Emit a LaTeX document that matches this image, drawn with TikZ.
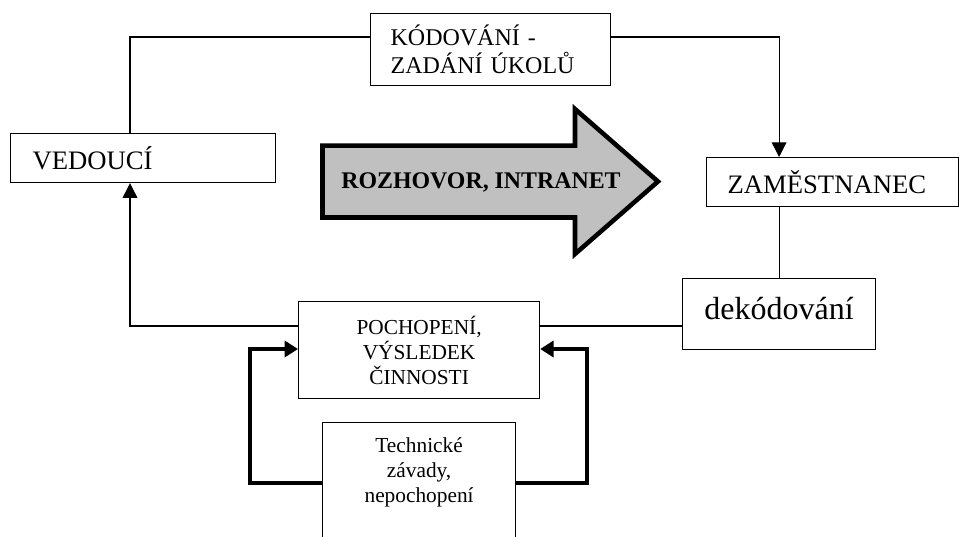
\documentclass[tikz,border=0pt]{standalone}
\usepackage{fontspec}
\setmainfont{Liberation Serif}
\usetikzlibrary{arrows.meta,calc}
\definecolor{talkgray}{RGB}{192,192,192}
\begin{document}
\begin{tikzpicture}[
    x=0.75pt, y=-0.75pt,
    box/.style={draw, line width=0.9pt, anchor=north west, inner ysep=0pt},
    lbox/.style={box, align=left, font=\fontsize{18}{21}\selectfont},
    cbox/.style={box, align=center, font=\fontsize{16}{18.75}\selectfont},
    link/.style={line width=0.9pt},
    flow/.style={link, -{Triangle[length=11pt, width=11pt]}},
    fat/.style={line width=3pt, line join=miter, -{Triangle[length=10pt, width=12pt]}}
]
    \useasboundingbox (0,0) rectangle (959,536);

    \node[lbox, minimum height=54pt, text width=150pt, inner xsep=15pt] (kod) at (370,13) {KÓDOVÁNÍ -\\ZADÁNÍ ÚKOLŮ};
    \node[lbox, minimum height=36.75pt, text width=165.75pt, inner xsep=16.5pt, font=\fontsize{20}{24}\selectfont] (ved) at (10,133) {VEDOUCÍ};
    \node[lbox, minimum height=36.75pt, text width=157.5pt, inner xsep=15.75pt, font=\fontsize{20}{24}\selectfont] (zam) at (706,157) {ZAMĚSTNANEC};
    \node[box, minimum width=144.75pt, minimum height=53.25pt, text depth=9pt, font=\fontsize{24}{28}\selectfont] (dek) at (682,278) {dekódování};
    \node[cbox, minimum width=180.75pt, minimum height=72.75pt, text width=160pt] (poch) at (298,301) {POCHOPENÍ,\\VÝSLEDEK\\ČINNOSTI};
    \node[cbox, minimum width=144.75pt, text width=130pt, inner ysep=11.5pt, text depth=150pt] (tech) at (322,422) {Technické\\závady,\\nepochopení};

    % velka sipka
    \draw[line width=3.4pt, fill=talkgray, line join=miter] (322.5,145.7) -- (575,145.7) -- (575,109) -- (658,181.5) -- (575,254) -- (575,217.5) -- (322.5,217.5) -- cycle;
    \node[font=\bfseries\fontsize{17.9}{20}\selectfont] (talk) at (481,182) {ROZHOVOR, INTRANET};

    \coordinate (upper) at (130,37);
    \coordinate (low) at (130,326);
    \coordinate (lft) at (250,349);
    \coordinate (rgt) at (587,349);
    \coordinate (bot) at (0,483);

    \draw[link] (ved.north -| upper) -- (upper) -- (kod.west |- upper);
    \draw[flow] (kod.east |- upper) -| (zam.north -| dek.north);
    \draw[link] (dek.north |- zam.south) -- (dek.north);
    \draw[link] (dek.west |- low) -- (poch.east |- low);
    \draw[flow] (poch.west |- low) -- (low) -- (ved.south -| low);
    \draw[fat] (tech.west |- bot) -| (lft) -- (poch.west |- lft);
    \draw[fat] (tech.east |- bot) -| (rgt) -- (poch.east |- rgt);
\end{tikzpicture}
\end{document}
